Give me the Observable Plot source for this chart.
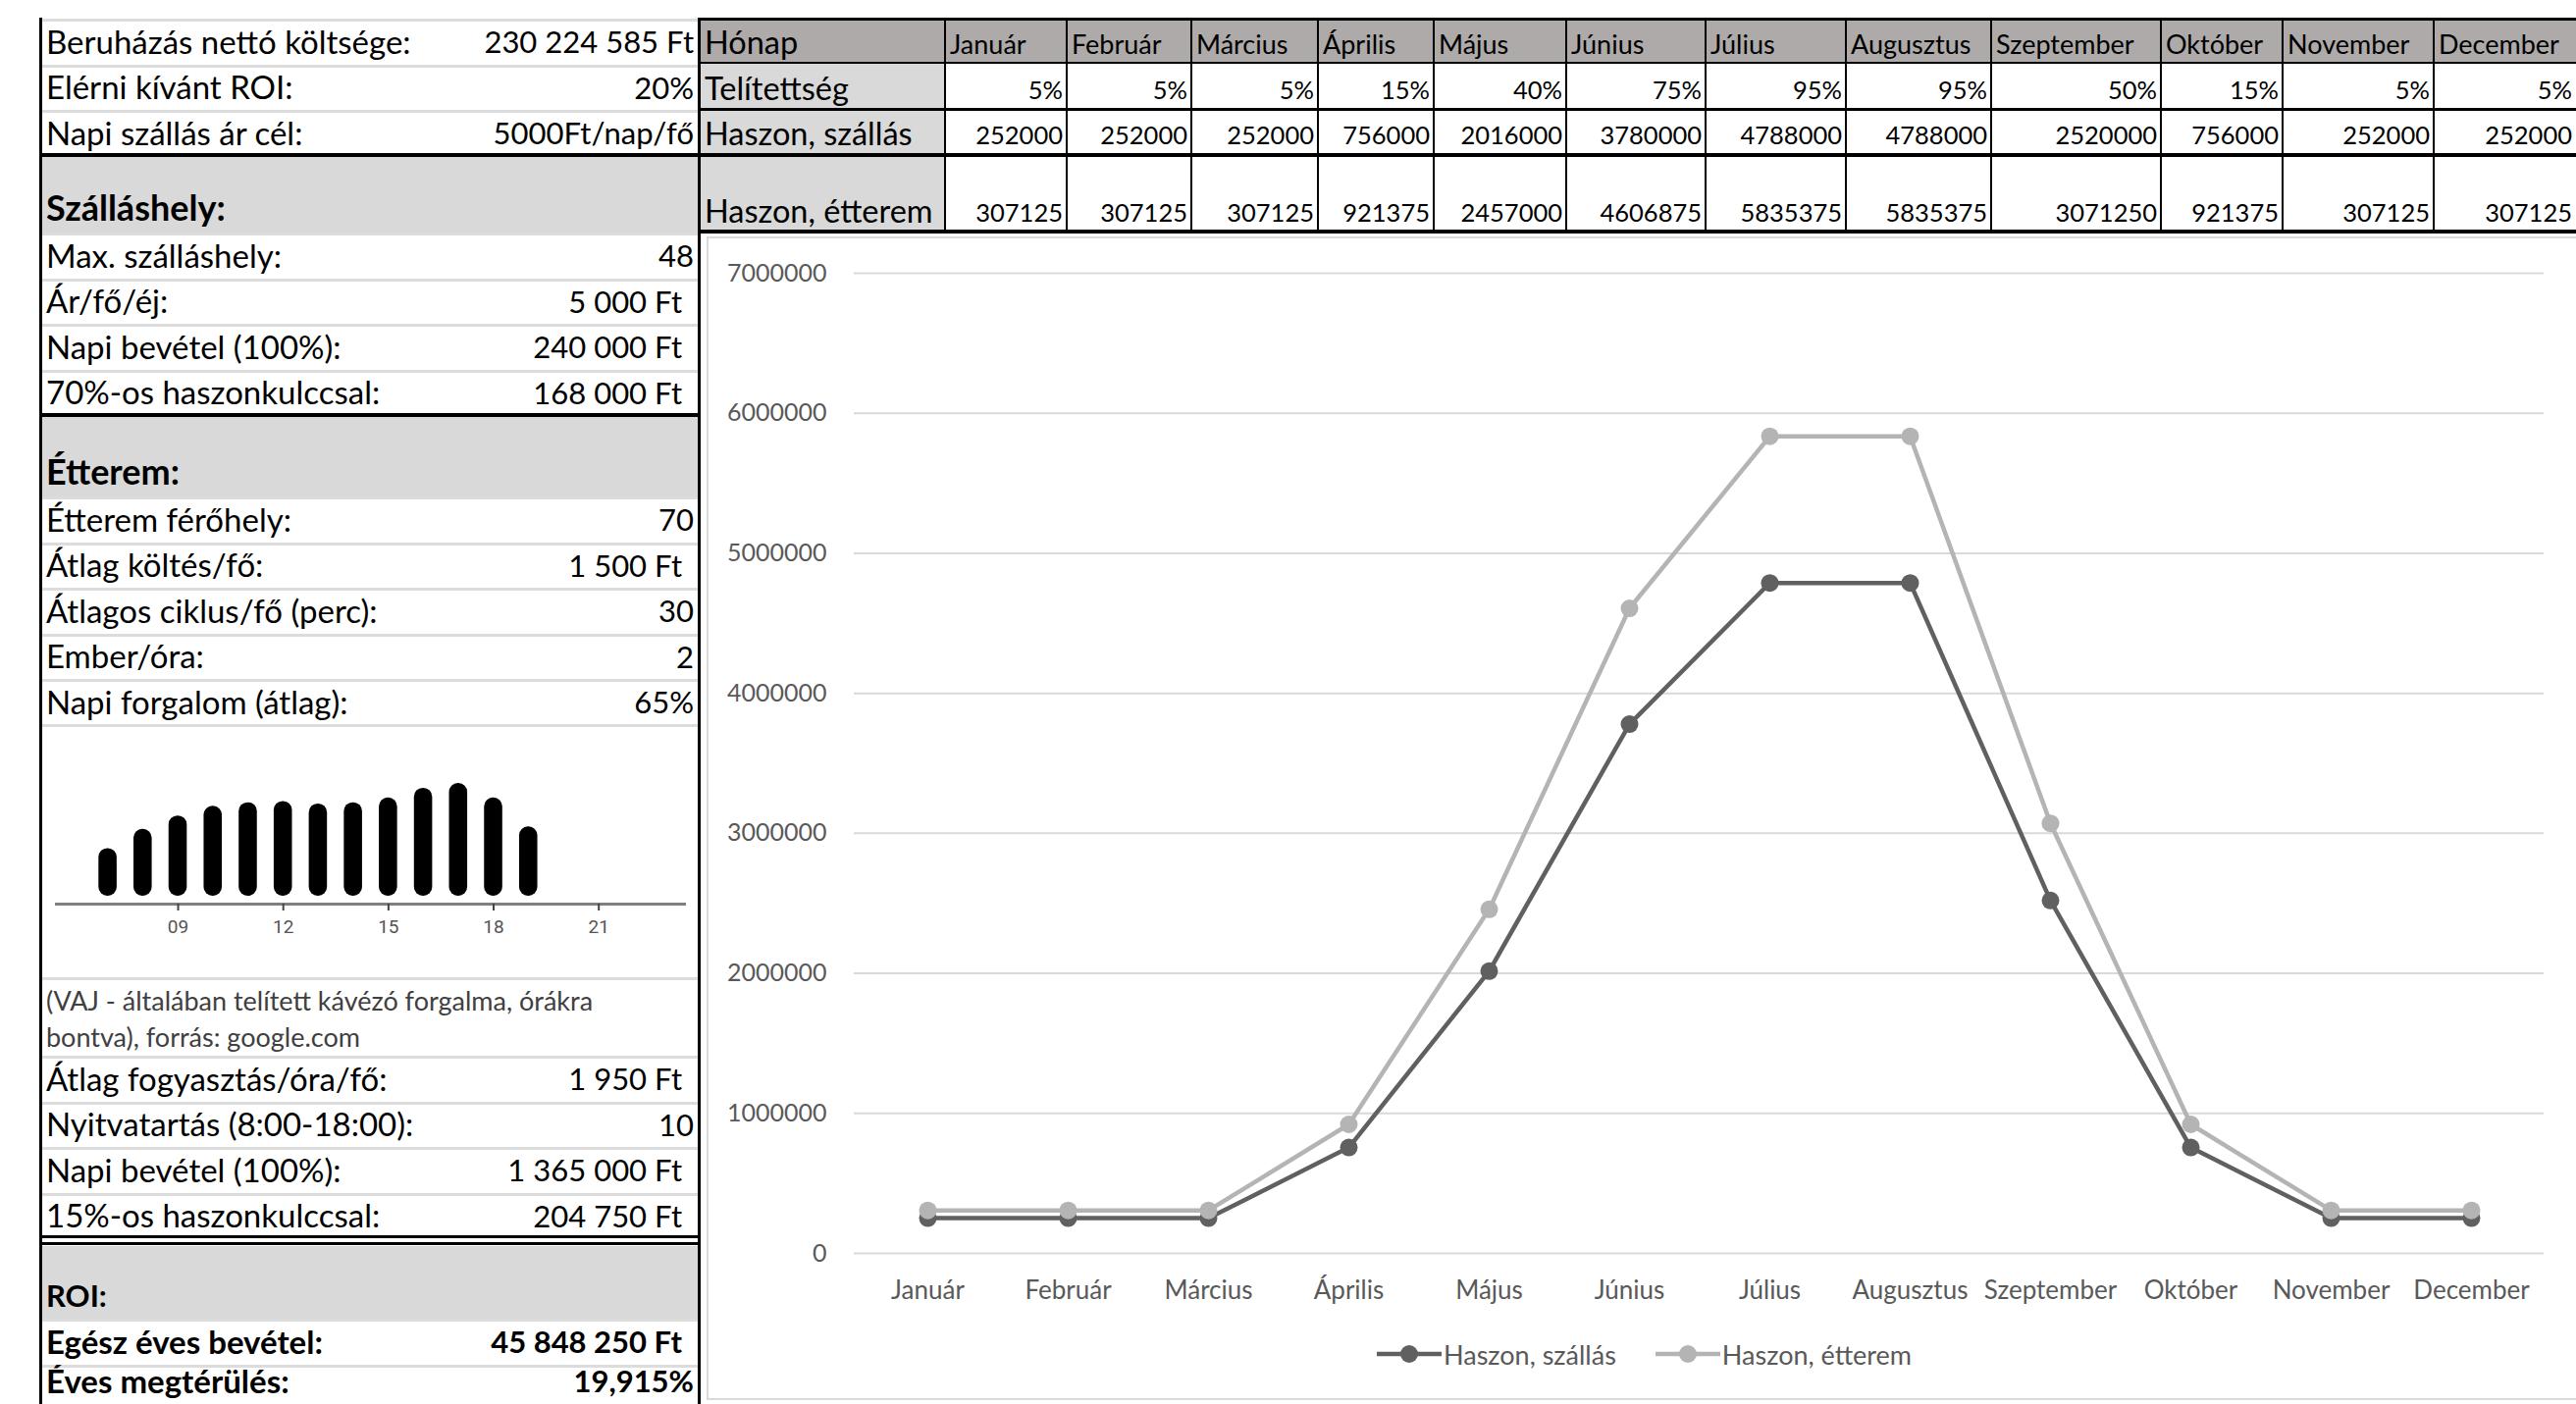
<!DOCTYPE html>
<html><head><meta charset="utf-8">
<script src="https://cdn.jsdelivr.net/npm/d3@7"></script>
<script src="https://cdn.jsdelivr.net/npm/@observablehq/plot@0.6"></script>
<style>
html,body{margin:0;padding:0;background:#fff;}
#page{position:relative;width:2625px;height:1431px;overflow:hidden;font-family:Lato,"Open Sans",sans-serif;color:#000;}
.cell{position:absolute;box-sizing:border-box;white-space:pre;overflow:hidden;display:flex;align-items:flex-end;line-height:1.15;}
.abs{position:absolute;}
</style></head><body><div id="page"></div>
<script>
// ---------------- DATA ----------------
const months = ["Január","Február","Március","Április","Május","Június","Július","Augusztus","Szeptember","Október","November","December"];
const occupancy = [5,5,5,15,40,75,95,95,50,15,5,5];
const profitLodging = [252000,252000,252000,756000,2016000,3780000,4788000,4788000,2520000,756000,252000,252000];
const profitRestaurant = [307125,307125,307125,921375,2457000,4606875,5835375,5835375,3071250,921375,307125,307125];
const seriesNames = ["Haszon, szállás","Haszon, étterem"];
const rowLabels = ["Hónap","Telítettség","Haszon, szállás","Haszon, étterem"];
const yTicks = [0,1000000,2000000,3000000,4000000,5000000,6000000,7000000];

const hours = [7,8,9,10,11,12,13,14,15,16,17,18,19];
const traffic = [46,62,73,81,84,85,83,84,88,96,100,88,64];
const hourTicks = [9,12,15,18,21];

const topLabels = ["Beruházás nettó költsége:","Elérni kívánt ROI:","Napi szállás ár cél:"];
const topValues = ["230 224 585 Ft","20%","5000Ft/nap/fő"];
const lodgingTitle = "Szálláshely:";
const lodgingLabels = ["Max. szálláshely:","Ár/fő/éj:","Napi bevétel (100%):","70%-os haszonkulccsal:"];
const lodgingValues = ["48","5 000 Ft","240 000 Ft","168 000 Ft"];
const restTitle = "Étterem:";
const restLabels = ["Étterem férőhely:","Átlag költés/fő:","Átlagos ciklus/fő (perc):","Ember/óra:","Napi forgalom (átlag):"];
const restValues = ["70","1 500 Ft","30","2","65%"];
const noteLines = ["(VAJ - általában telített kávézó forgalma, órákra","bontva), forrás: google.com"];
const rest2Labels = ["Átlag fogyasztás/óra/fő:","Nyitvatartás (8:00-18:00):","Napi bevétel (100%):","15%-os haszonkulccsal:"];
const rest2Values = ["1 950 Ft","10","1 365 000 Ft","204 750 Ft"];
const roiTitle = "ROI:";
const roiLabels = ["Egész éves bevétel:","Éves megtérülés:"];
const roiValues = ["45 848 250 Ft","19,915%"];

const colors = ["#606060","#b4b4b4"];

// ---------------- LAYOUT HELPERS ----------------
const page = document.getElementById("page");
function box(x,y,w,h,style){
  const d=document.createElement("div"); d.className="cell";
  Object.assign(d.style,{left:x+"px",top:y+"px",width:w+"px",height:h+"px"},style||{});
  page.appendChild(d); return d;
}
function line(x,y,w,h,color){ return box(x,y,w,h,{background:color||"#000"}); }

const LX=42, RX=711, LFS=33, VFS=31;
function dataRow(y,h,label,value,opts){
  opts=opts||{};
  box(LX,y,RX-LX,3,{background:"#dcdcdc"});
  const l=box(LX,y,RX-LX,h,{padding:"0 0 4px 5px",fontSize:LFS+"px",fontWeight:opts.bold?"700":"400"});
  l.textContent=label;
  const v=box(LX,y,RX-LX,h,{padding:"0 "+(opts.pad?16:4)+"px 5px 0",justifyContent:"flex-end",fontSize:VFS+"px",fontWeight:opts.bold?"700":"400"});
  v.textContent=value;
}
function headRow(y,h,title,fs){
  const d=box(LX,y,RX-LX,h,{background:"#d9d9d9",padding:"0 0 5px 5px",fontSize:fs+"px",fontWeight:"700"});
  d.textContent=title;
}
const isFt = s => / Ft$/.test(s);

// ---------------- LEFT TABLE ----------------
const rowH = 46.6;
let y=19;
topLabels.forEach((t,i)=>{ dataRow(y,rowH,t,topValues[i]); y+=rowH; });
headRow(159,78,lodgingTitle,36); y=237;
lodgingLabels.forEach((t,i)=>{ dataRow(y,rowH,t,lodgingValues[i],{pad:isFt(lodgingValues[i])}); y+=rowH; });
headRow(423,83,restTitle,36); y=506;
restLabels.forEach((t,i)=>{ dataRow(y,rowH,t,restValues[i],{pad:isFt(restValues[i])}); y+=rowH; });
// mini chart block
box(LX,738,RX-LX,3,{background:"#dcdcdc"});
const chartHolder = box(LX,738,RX-LX,258,{display:"block"});
// note
box(LX,996,RX-LX,3,{background:"#dcdcdc"});
const note = box(LX,999,RX-LX,77,{display:"block",fontSize:"27px",color:"#404040",padding:"2px 0 0 5px",lineHeight:"37px",whiteSpace:"pre"});
note.textContent = noteLines.join("\n");
y=1076;
rest2Labels.forEach((t,i)=>{ dataRow(y,rowH,t,rest2Values[i],{pad:isFt(rest2Values[i])}); y+=rowH; });
headRow(1270,74,roiTitle,31); y=1344;
roiLabels.forEach((t,i)=>{ const h = i===roiLabels.length-1 ? 1431-y : rowH; dataRow(y,h,t,roiValues[i],{bold:true,pad:isFt(roiValues[i])}); y+=rowH; });

// black lines left table
line(40,18,3,1431-18);
line(711,18,3,1431-18);
line(40,421,673,4);
line(40,1259,673,3);
line(40,1266,673,3);

// ---------------- TOP RIGHT TABLE ----------------
const colEdges=[713,963,1087,1214,1343,1461,1596,1738,1881,2029,2202,2326,2480,2625];
const rowEdges=[19,65,112,158,237];
box(713,19,2625-713,46,{background:"#aeaaaa"});
box(713,65,250,237-65,{background:"#d9d9d9"});
rowLabels.forEach((t,r)=>{
  const d=box(colEdges[0],rowEdges[r],colEdges[1]-colEdges[0],rowEdges[r+1]-rowEdges[r],{padding:"0 0 4px 5px",fontSize:"32.5px"});
  d.textContent=t;
});
months.forEach((m,i)=>{
  const x0=colEdges[i+1], w=colEdges[i+2]-x0;
  const h=box(x0,rowEdges[0],w,rowEdges[1]-rowEdges[0],{padding:"0 0 5px 5px",fontSize:"27px"}); h.textContent=m;
  const vals=[occupancy[i]+"%", String(profitLodging[i]), String(profitRestaurant[i])];
  vals.forEach((v,r)=>{
    const d=box(x0,rowEdges[r+1],w,rowEdges[r+2]-rowEdges[r+1],{padding:"0 4px 6px 0",justifyContent:"flex-end",fontSize:"25.5px"});
    d.textContent=v;
  });
});
colEdges.slice(0,-1).forEach(x=>line(x-1,18,2,219));
line(713,18,1912,3);
line(713,63,1912,2);
line(713,110,1912,3);
line(40,156,2585,4);
line(713,234,1912,4);

// ---------------- MAIN LINE CHART ----------------
box(720,241,1920,1186,{border:"2px solid #d9d9d9",display:"block"});
const rows = [profitLodging,profitRestaurant].flatMap((vals,s)=>months.map((m,i)=>({month:m,value:vals[i],series:seriesNames[s]})));
const main = Plot.plot({
  width:1912, height:1194,
  marginTop:41, marginBottom:154, marginLeft:157, marginRight:33,
  style:{fontFamily:"Lato, sans-serif", background:"transparent", overflow:"visible"},
  x:{type:"point", domain:months, padding:0.5, label:null},
  y:{domain:[0,7000000], label:null},
  color:{domain:seriesNames, range:colors},
  marks:[
    Plot.gridY(yTicks,{stroke:"#d9d9d9", strokeOpacity:1, strokeWidth:2}),
    Plot.axisY(yTicks,{tickSize:0, tickPadding:28, fontSize:25, fill:"#595959", label:null, tickFormat:d=>String(d)}),
    Plot.axisX({tickSize:0, tickPadding:28, fontSize:26, fill:"#595959", label:null}),
    Plot.lineY(rows,{x:"month", y:"value", z:"series", stroke:"series", strokeWidth:4.5}),
    Plot.dot(rows,{x:"month", y:"value", fill:"series", r:9})
  ]
});
const mw = document.createElement("div"); mw.className="abs"; mw.style.left="713px"; mw.style.top="237px";
mw.appendChild(main); page.appendChild(mw);

// legend
const leg = document.createElement("div"); leg.className="abs";
Object.assign(leg.style,{left:"1403px",top:"1363px",display:"flex",alignItems:"center",fontSize:"27px",color:"#595959",fontFamily:"Lato, sans-serif"});
seriesNames.forEach((n,i)=>{
  const item=document.createElement("div"); item.style.display="flex"; item.style.alignItems="center"; item.style.marginRight="40px";
  item.innerHTML=`<svg width="66" height="34"><line x1="0" x2="66" y1="17" y2="17" stroke="${colors[i]}" stroke-width="4.5"/><circle cx="33" cy="17" r="9" fill="${colors[i]}"/></svg><span style="margin-left:2px">${n}</span>`;
  leg.appendChild(item);
});
page.appendChild(leg);

// ---------------- MINI BAR CHART ----------------
const hourRows = hours.map((h,i)=>({hour:h,value:traffic[i]}));
const mini = Plot.plot({
  width:669, height:258,
  marginTop:60, marginBottom:75, marginLeft:14, marginRight:12,
  style:{fontFamily:"Roboto, Liberation Sans, sans-serif", background:"transparent"},
  x:{domain:[5.5,23.5], label:null},
  y:{domain:[0,100], label:null, axis:null},
  marks:[
    Plot.rect(hourRows,{x1:d=>d.hour-0.26, x2:d=>d.hour+0.26, y1:0, y2:"value", fill:"#000", rx:9, insetBottom:8}),
    Plot.ruleY([0],{stroke:"#7f7f7f", strokeWidth:3}),
    Plot.axisX(hourTicks,{tickSize:7, tickPadding:9, fontSize:19, fill:"#555", stroke:"#444", strokeWidth:2, tickFormat:d=>String(d).padStart(2,"0"), label:null})
  ]
});
chartHolder.appendChild(mini);
</script></body></html>
